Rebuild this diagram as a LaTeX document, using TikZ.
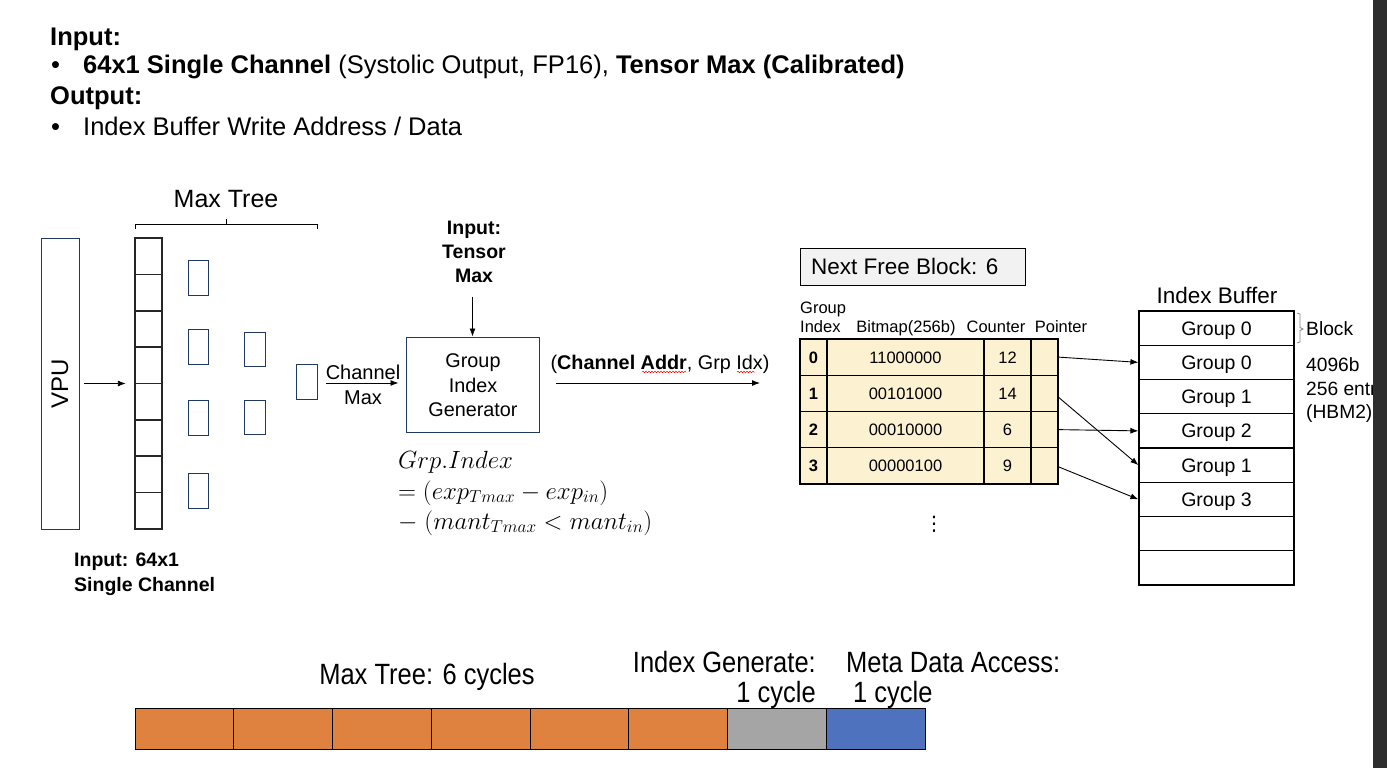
\documentclass[tikz,border=0pt]{standalone}
\usepackage{fontspec}
\setmainfont{Liberation Sans}
\newfontfamily\dejavu{DejaVu Sans}
\usetikzlibrary{arrows.meta,decorations.pathmorphing,calc}
\newcommand\setfs[1]{\fontsize{#1}{#1}\selectfont}
\definecolor{navy}{HTML}{1F3864}
\definecolor{cream}{HTML}{FCF1D1}
\definecolor{orng}{HTML}{E0823F}
\definecolor{gryc}{HTML}{A5A5A5}
\definecolor{bluc}{HTML}{4F72BE}
\definecolor{nfbfill}{HTML}{F2F2F2}
\definecolor{strip}{HTML}{2E2E2E}
\begin{document}
\begin{tikzpicture}[x=1pt,y=-1pt,
  ft/.code={\pgfmathsetlengthmacro\fth{0.716*#1}\pgfkeysalso{inner sep=0pt,text depth=0pt,text height/.expanded=\fth,font=\setfs{#1}}},
  arr/.style={-{Latex[length=8pt,width=6pt]}, line width=0.9pt},
  navybox/.style={draw=navy, line width=1pt, inner sep=0pt},
  colcell/.style={draw=black!85, line width=1.6pt, inner sep=0pt, minimum width=27, minimum height=36.375},
  tcell/.style={draw=black, line width=1.3pt, fill=cream, inner sep=0pt, minimum height=36.25, font=\setfs{16.5}, text height=11.8pt, text depth=0pt},
  bufrow/.style={draw=black, line width=1.2pt, inner sep=0pt, minimum width=155, minimum height=34.25, font=\setfs{19.5}, text height=13.96pt, text depth=0pt},
  barcell/.style={draw=black, line width=1pt, inner sep=0pt, minimum width=98.75, minimum height=41},
  btxt/.style={font=\setfs{25.5}, inner sep=0pt},
  mth/.style={anchor=base west, inner sep=0pt, font=\setfs{26.5}}
]
\useasboundingbox (0,0) rectangle (1387,768);
\fill[white] (0,0) rectangle (1387,768);

% ---------- top text ----------
\node[ft=25.5, anchor=west] (hin) at (50,36) {\bfseries Input:};
\node[ft=25.5, anchor=west] (bul1) at (51,64) {•};
\node[ft=25.5, anchor=west] (lin1) at (83,64) {\textbf{64x1 Single Channel} (Systolic Output, FP16), \textbf{Tensor Max (Calibrated)}};
\node[ft=25.5, anchor=west] (hout) at (50,95) {\bfseries Output:};
\node[ft=25.5, anchor=west] (bul2) at (51,126) {•};
\node[ft=25.5, anchor=west] (lin2) at (83,126) {Index Buffer Write Address / Data};

% ---------- max tree ----------
\node[ft=25] (mtt) at (226,199) {Max Tree};
\draw[line width=0.8pt] (135,229) -- (135,224) -- (317,224) -- (317,229);
\draw[line width=0.8pt] (226,224) -- (226,219);

\node[navybox, minimum width=38, minimum height=291] (vpu) at (60,383.5) {};
\node[rotate=90, font=\setfs{24}, inner sep=0pt] (vputxt) at (vpu.center) {VPU};

\foreach \i in {1,...,8} {
  \node[colcell] (col\i) at (148.5,{238+36.375*(\i-0.5)}) {};
}
\node[inner sep=0pt, minimum width=27, minimum height=291] (col) at (148.5,383.5) {};
\draw[arr] ($(vpu.east)+(4,0)$) -- ($(col.west)+(-9,0)$);

\node[navybox, minimum width=20, minimum height=35] (l2a) at (198,277.5) {};
\node[navybox, minimum width=20, minimum height=35] (l2b) at (198,346.5) {};
\node[navybox, minimum width=20, minimum height=35] (l2c) at (198,418) {};
\node[navybox, minimum width=20, minimum height=35] (l2d) at (198,490.5) {};
\node[navybox, minimum width=21, minimum height=34] (l3a) at (254.5,349) {};
\node[navybox, minimum width=21, minimum height=34] (l3b) at (254.5,417.5) {};
\node[navybox, minimum width=21, minimum height=35] (l4) at (306.5,381.5) {};

\node[ft=19.5, anchor=west] (inl) at (74,560) {\bfseries Input: 64x1};
\node[ft=19.5, anchor=west] (inl2) at (74,585) {\bfseries Single Channel};

% ---------- group index generator ----------
\node[navybox, minimum width=133, minimum height=95] (gig) at (472.5,384.5) {};
\node[ft=19.8] (g1) at (473,360) {Group};
\node[ft=19.8] (g2) at (473,385) {Index};
\node[ft=19.8] (g3) at (473,409) {Generator};

\node[ft=19.5] (tm1) at (474,228) {\bfseries Input:};
\node[ft=19.5] (tm2) at (474,252) {\bfseries Tensor};
\node[ft=19.5] (tm3) at (474,276) {\bfseries Max};
\draw[arr] ($(gig.north)+(0,-40)$) -- (gig.north);

\coordinate (cmS) at (326,383);
\draw[arr] (cmS) -- ($(cmS -| gig.west)+(-7,0)$);
\node[ft=20] (cm1) at (363,372) {Channel};
\node[ft=20] (cm2) at (363,397) {Max};

\coordinate (oS) at ($(gig.east)+(16,-1.5)$);
\coordinate (oE) at (760,383);
\draw[arr] (oS) -- (oE);
\node[ft=19.8] (olab) at (660,362) {(\textbf{Channel Addr}, Grp Idx)};
\draw[red, line width=0.5pt, decorate, decoration={snake, amplitude=0.8pt, segment length=3pt}] (642,372) -- (686,372);
\draw[red, line width=0.5pt, decorate, decoration={snake, amplitude=0.8pt, segment length=3pt}] (737,372) -- (755,372);

\node[mth] (f1) at (398,468) {$Grp.Index$};
\node[mth] (f2) at (398,499) {$=(exp_{Tmax}-exp_{in})$};
\node[mth] (f3) at (398,529) {$-\;(mant_{Tmax}<mant_{in})$};

% ---------- metadata table ----------
\node[draw=black, line width=1pt, fill=nfbfill, minimum width=225, minimum height=37, inner sep=0pt] (nfb) at (912.5,266.5) {};
\node[ft=22.5, anchor=west] (nfbt) at (811,266) {Next Free Block: 6};

\node[ft=16.5, anchor=west] (h1) at (800,308) {Group};
\node[ft=16.5, anchor=west] (h2) at (800,326.5) {Index};
\node[ft=16.5] (h3) at (906,326.5) {Bitmap(256b)};
\node[ft=16.5] (h4) at (996,326.5) {Counter};
\node[ft=16.5] (h5) at (1061,326.5) {Pointer};

\foreach \r/\bm/\cn in {0/11000000/12, 1/00101000/14, 2/00010000/6, 3/00000100/9} {
  \node[tcell, minimum width=27] (i\r) at (813.5,{357.125+36.25*\r}) {\textbf{\r}};
  \node[tcell, minimum width=157] (m\r) at (905.5,{357.125+36.25*\r}) {\bm};
  \node[tcell, minimum width=47] (c\r) at (1007.5,{357.125+36.25*\r}) {\cn};
  \node[tcell, minimum width=27] (p\r) at (1044.5,{357.125+36.25*\r}) {};
}
\node[inner sep=0pt, font=\setfs{20}\dejavu] (dots) at (934,524) {⋮};

% ---------- index buffer ----------
\node[ft=22.5] (ibt) at (1217,295) {Index Buffer};
\foreach \k/\lab in {0/Group 0, 1/Group 0, 2/Group 1, 3/Group 2, 4/Group 1, 5/Group 3, 6/{}, 7/{}} {
  \node[bufrow] (b\k) at (1216.5,{311+34.25*(\k+0.5)}) {\lab};
}
\draw[gray, line width=0.7pt] (1297,313) -- (1300,314) -- (1300,327.5) -- (1303,329) -- (1300,330.5) -- (1300,342) -- (1297,343);
\node[ft=19.2, anchor=west] (blk) at (1306,329) {Block};
\node[ft=19.2, anchor=west] (bs1) at (1306,365) {4096b};
\node[ft=19.2, anchor=west] (bs2) at (1306,388.5) {256 entry};
\node[ft=19.2, anchor=west] (bs3) at (1306,411.5) {(HBM2)};

\draw[arr] (p0.east) -- (b1.west);
\draw[arr] ($(p1.east)+(0,4)$) -- (b4.west);
\draw[arr] (p2.east) -- (b3.west);
\draw[arr] ($(p3.east)+(0,1)$) -- (b5.west);

% ---------- timeline ----------
\foreach \j/\cl in {1/orng, 2/orng, 3/orng, 4/orng, 5/orng, 6/orng, 7/gryc, 8/bluc} {
  \node[barcell, fill=\cl] (t\j) at ({135+98.75*(\j-0.5)},728.5) {};
}
\node[btxt, anchor=base] (tl1) at (427,684) {\scalebox{1}[1.15]{Max Tree: 6 cycles}};
\node[btxt, anchor=base east] (tl2) at (816,672) {\scalebox{1}[1.15]{Index Generate:}};
\node[btxt, anchor=base east] (tl3) at (816,702) {\scalebox{1}[1.15]{1 cycle}};
\node[btxt, anchor=base west] (tl4) at (846,672) {\scalebox{1}[1.15]{Meta Data Access:}};
\node[btxt, anchor=base west] (tl5) at (853,702) {\scalebox{1}[1.15]{1 cycle}};

\fill[strip] (1373,0) rectangle (1387,768);
\end{tikzpicture}
\end{document}
